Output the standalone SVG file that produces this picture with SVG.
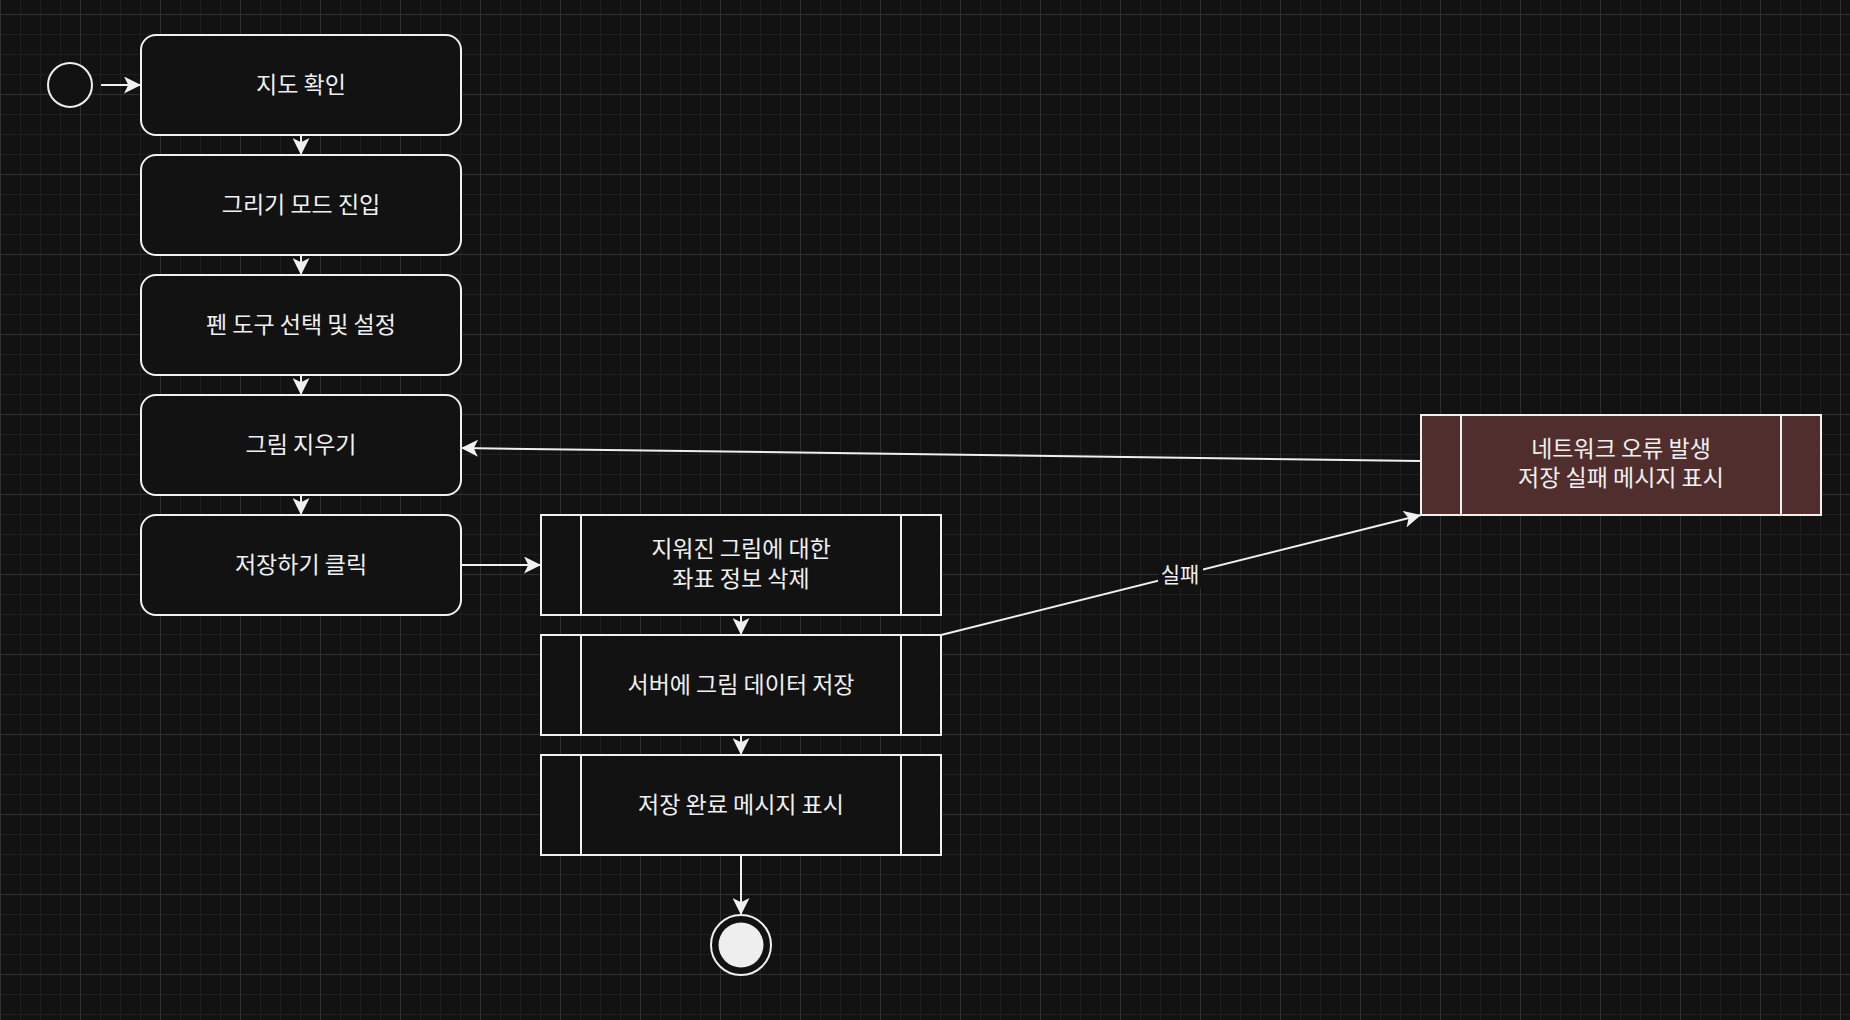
<svg xmlns="http://www.w3.org/2000/svg" width="1850" height="1020" viewBox="0 0 1850 1020">
<defs>
<pattern id="gMinor" width="20" height="20" patternUnits="userSpaceOnUse" patternTransform="translate(0,14)">
<rect x="0" y="0" width="20" height="1" fill="#1f1f1f"/>
<rect x="0" y="0" width="1" height="20" fill="#1f1f1f"/>
</pattern>
<pattern id="gMajor" width="80" height="80" patternUnits="userSpaceOnUse" patternTransform="translate(0,14)">
<rect x="0" y="0" width="80" height="1" fill="#303030"/>
<rect x="0" y="0" width="1" height="80" fill="#303030"/>
</pattern>
<marker id="arr" markerUnits="userSpaceOnUse" viewBox="0 0 17 17" markerWidth="17" markerHeight="17" refX="17" refY="8.5" orient="auto">
<path d="M17,8.5 L0,0 L4.25,8.5 L0,17 Z" fill="#f0f0f0"/>
</marker>
<style>
.box{fill:#121212;stroke:#f0f0f0;stroke-width:2}
.err{fill:#512e2e;stroke:#f0f0f0;stroke-width:2}
.in{stroke:#f0f0f0;stroke-width:2;fill:none}
.t{font-family:"Noto Sans CJK KR","Noto Sans",sans-serif;font-size:23px;fill:#f0f0f0;text-anchor:middle}
.lbl{font-family:"Noto Sans CJK KR","Noto Sans",sans-serif;font-size:21px;fill:#f0f0f0;text-anchor:middle}
.c{stroke:#f0f0f0;stroke-width:2;fill:none;marker-end:url(#arr)}
</style>
</defs>
<rect width="1850" height="1020" fill="#121212"/>
<rect width="1850" height="1020" fill="url(#gMinor)"/>
<rect width="1850" height="1020" fill="url(#gMajor)"/>

<g id="connectors">
<line class="c" x1="101" y1="85" x2="141" y2="85"/>
<line class="c" x1="301" y1="135" x2="301" y2="155"/>
<line class="c" x1="301" y1="255" x2="301" y2="275"/>
<line class="c" x1="301" y1="375" x2="301" y2="395"/>
<line class="c" x1="301" y1="495" x2="301" y2="515"/>
<line class="c" x1="461" y1="565" x2="541" y2="565"/>
<line class="c" x1="741" y1="615" x2="741" y2="635"/>
<line class="c" x1="741" y1="735" x2="741" y2="755"/>
<line class="c" x1="741" y1="855" x2="741" y2="915"/>
<line class="c" x1="941" y1="635" x2="1421" y2="515"/>
<line class="c" x1="1421" y1="461" x2="461" y2="448"/>
<g id="label-fail">
<rect x="1158" y="560" width="45" height="28" fill="#121212"/>
<text class="lbl" x="1180" y="582">실패</text>
</g>
</g>

<g id="start"><circle cx="70" cy="85" r="22" fill="#121212" stroke="#f0f0f0" stroke-width="2"/></g>

<g id="n1"><rect class="box" x="141" y="35" width="320" height="100" rx="15"/><text class="t" x="301" y="92.5">지도 확인</text></g>
<g id="n2"><rect class="box" x="141" y="155" width="320" height="100" rx="15"/><text class="t" x="301" y="212.5">그리기 모드 진입</text></g>
<g id="n3"><rect class="box" x="141" y="275" width="320" height="100" rx="15"/><text class="t" x="301" y="332.5">펜 도구 선택 및 설정</text></g>
<g id="n4"><rect class="box" x="141" y="395" width="320" height="100" rx="15"/><text class="t" x="301" y="452.5">그림 지우기</text></g>
<g id="n5"><rect class="box" x="141" y="515" width="320" height="100" rx="15"/><text class="t" x="301" y="572.5">저장하기 클릭</text></g>

<g id="p1"><rect class="box" x="541" y="515" width="400" height="100"/><line class="in" x1="581" y1="515" x2="581" y2="615"/><line class="in" x1="901" y1="515" x2="901" y2="615"/>
<text class="t" x="741" y="557">지워진 그림에 대한</text><text class="t" x="741" y="587">좌표 정보 삭제</text></g>
<g id="p2"><rect class="box" x="541" y="635" width="400" height="100"/><line class="in" x1="581" y1="635" x2="581" y2="735"/><line class="in" x1="901" y1="635" x2="901" y2="735"/>
<text class="t" x="741" y="692.5">서버에 그림 데이터 저장</text></g>
<g id="p3"><rect class="box" x="541" y="755" width="400" height="100"/><line class="in" x1="581" y1="755" x2="581" y2="855"/><line class="in" x1="901" y1="755" x2="901" y2="855"/>
<text class="t" x="741" y="812.5">저장 완료 메시지 표시</text></g>

<g id="err"><rect class="err" x="1421" y="415" width="400" height="100"/><line class="in" x1="1461" y1="415" x2="1461" y2="515"/><line class="in" x1="1781" y1="415" x2="1781" y2="515"/>
<text class="t" x="1621" y="457">네트워크 오류 발생</text><text class="t" x="1621" y="486">저장 실패 메시지 표시</text></g>

<g id="end"><circle cx="741" cy="945" r="30" fill="#121212" stroke="#f0f0f0" stroke-width="2"/><circle cx="741" cy="945" r="22.5" fill="#eeeeee"/></g>
</svg>
